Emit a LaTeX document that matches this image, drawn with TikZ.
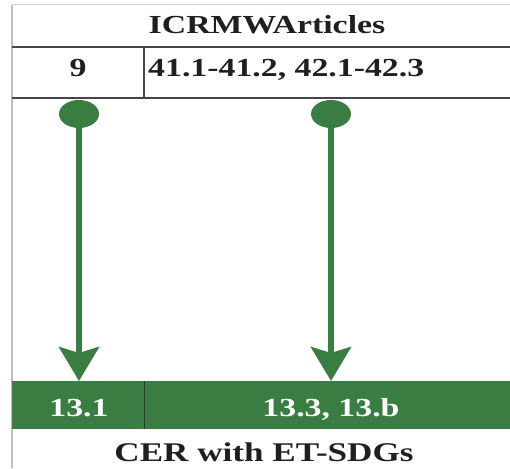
\documentclass[tikz,border=0pt]{standalone}
\usepackage{fontspec}
\setmainfont{Liberation Serif}[FakeStretch=1.3]
\usetikzlibrary{arrows.meta,shapes.geometric}
\definecolor{sdggreen}{RGB}{58,125,66}
\definecolor{rulegray}{RGB}{70,70,70}
\tikzset{
	cell/.style={font=\fontsize{26}{30}\selectfont\bfseries, text=black!88, inner sep=0pt},
	tag/.style={cell, text=white, fill=sdggreen, minimum height=48pt, anchor=north west},
	pin/.style={ellipse, fill=sdggreen, minimum width=40pt, minimum height=28pt, inner sep=0pt},
	link/.style={draw=sdggreen, line width=6pt, -{Stealth[width=40pt,length=34pt,inset=6pt]}},
	rule/.style={draw=rulegray, line width=1.2pt}
}
\begin{document}
\begin{tikzpicture}[x=1pt,y=-1pt]
	\useasboundingbox (0,0) rectangle (510,468);
	\draw[black!18, line width=1pt] (12,5) -- (510,5);
	\draw[black!25, line width=1.2pt] (12,5) -- (12,468);
	\node[cell, anchor=base] (head) at (267,34) {ICRMWArticles};
	\draw[rule] (12,47) -- (510,47);
	\draw[rule] (12,98) -- (510,98);
	\draw[rule] (144,47) -- (144,98);
	\node[cell, anchor=base] (art9) at (78,77) {9};
	\node[cell, anchor=base west] (art41) at (148,77) {41.1-41.2, 42.1-42.3};
	\node[tag, minimum width=132pt] (sdgA) at (12,381) {};
	\node[tag, minimum width=366pt] (sdgB) at (144,381) {};
	\draw[rule, black!80] (sdgA.north east) -- (sdgA.south east);
	\node[cell, text=white, anchor=base] (lblA) at (79,416) {13.1};
	\node[cell, text=white, anchor=base] (lblB) at (331,416) {13.3, 13.b};
	\node[cell, font=\fontsize{27}{30}\selectfont\bfseries, anchor=base] (foot) at (264,461) {CER with ET-SDGs};
	\node[pin] (pinA) at (79,114) {};
	\node[pin] (pinB) at (331,114) {};
	\draw[link] (pinA.south) -- (sdgA.north -| pinA);
	\draw[link] (pinB.south) -- (sdgB.north -| pinB);
\end{tikzpicture}
\end{document}
